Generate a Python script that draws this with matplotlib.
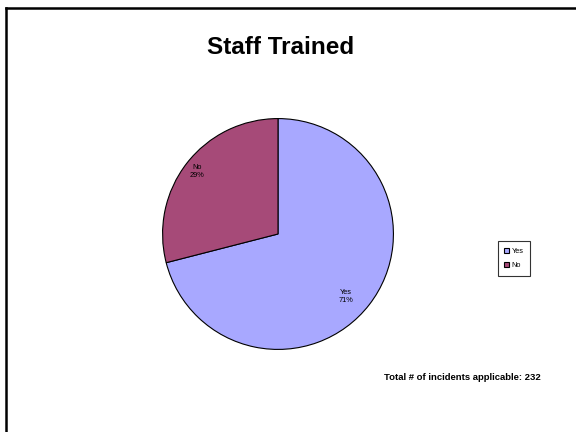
import numpy as np
import matplotlib
matplotlib.use("Agg")
import matplotlib.pyplot as plt
from matplotlib.lines import Line2D

plt.rcParams["font.family"] = ["Liberation Sans", "DejaVu Sans"]

categories = ["Yes", "No"]
values = [71, 29]
colors = ["#A8A8FF", "#A64A78"]
title = "Staff Trained"
note = "Total # of incidents applicable: 232"

fig = plt.figure(figsize=(5.76, 4.32), dpi=100)

# frame lines (top and left only, like the slide export)
fig.add_artist(Line2D([6 / 576, 6 / 576], [0, 1 - 8 / 432], color="black", lw=1.8))
fig.add_artist(Line2D([6 / 576, 1], [1 - 8 / 432, 1 - 8 / 432], color="black", lw=1.8))

ax = fig.add_axes([162 / 576, 1 - 350 / 432, 232 / 576, 232 / 432])
wedges, _ = ax.pie(values, colors=colors, startangle=90, counterclock=False,
                   wedgeprops=dict(edgecolor="black", linewidth=0.8))
ax.set_xlim(-1.005, 1.005)
ax.set_ylim(-1.005, 1.005)
ax.set_aspect("equal")

# data labels inside the slices (excel puts them a bit off the bisector)
dist = [0.8, 0.885]
shift = [-5, 0]
for w, cat, v, d, s in zip(wedges, categories, values, dist, shift):
    ang = np.deg2rad((w.theta1 + w.theta2) / 2 + s)
    ax.text(d * np.cos(ang), d * np.sin(ang), f"{cat}\n{v}%", ha="center",
            va="center", fontsize=5.3, linespacing=1.1)

fig.text(281 / 576, 1 - 48 / 432, title, ha="center", va="center",
         fontsize=17.5, fontweight="bold")
fig.text(462 / 576, 1 - 378 / 432, note, ha="center", va="center",
         fontsize=6.8, fontweight="bold")

leg = fig.legend(wedges, categories, loc="center", bbox_to_anchor=(514 / 576, 1 - 258.5 / 432),
                 fontsize=5.3, frameon=True, fancybox=False, handlelength=0.7,
                 handleheight=0.7, handletextpad=0.3, borderpad=0.9, labelspacing=1.0,
                 borderaxespad=0, edgecolor="black")
leg.get_frame().set_linewidth(0.8)

fig.savefig("out.png", dpi=100)
